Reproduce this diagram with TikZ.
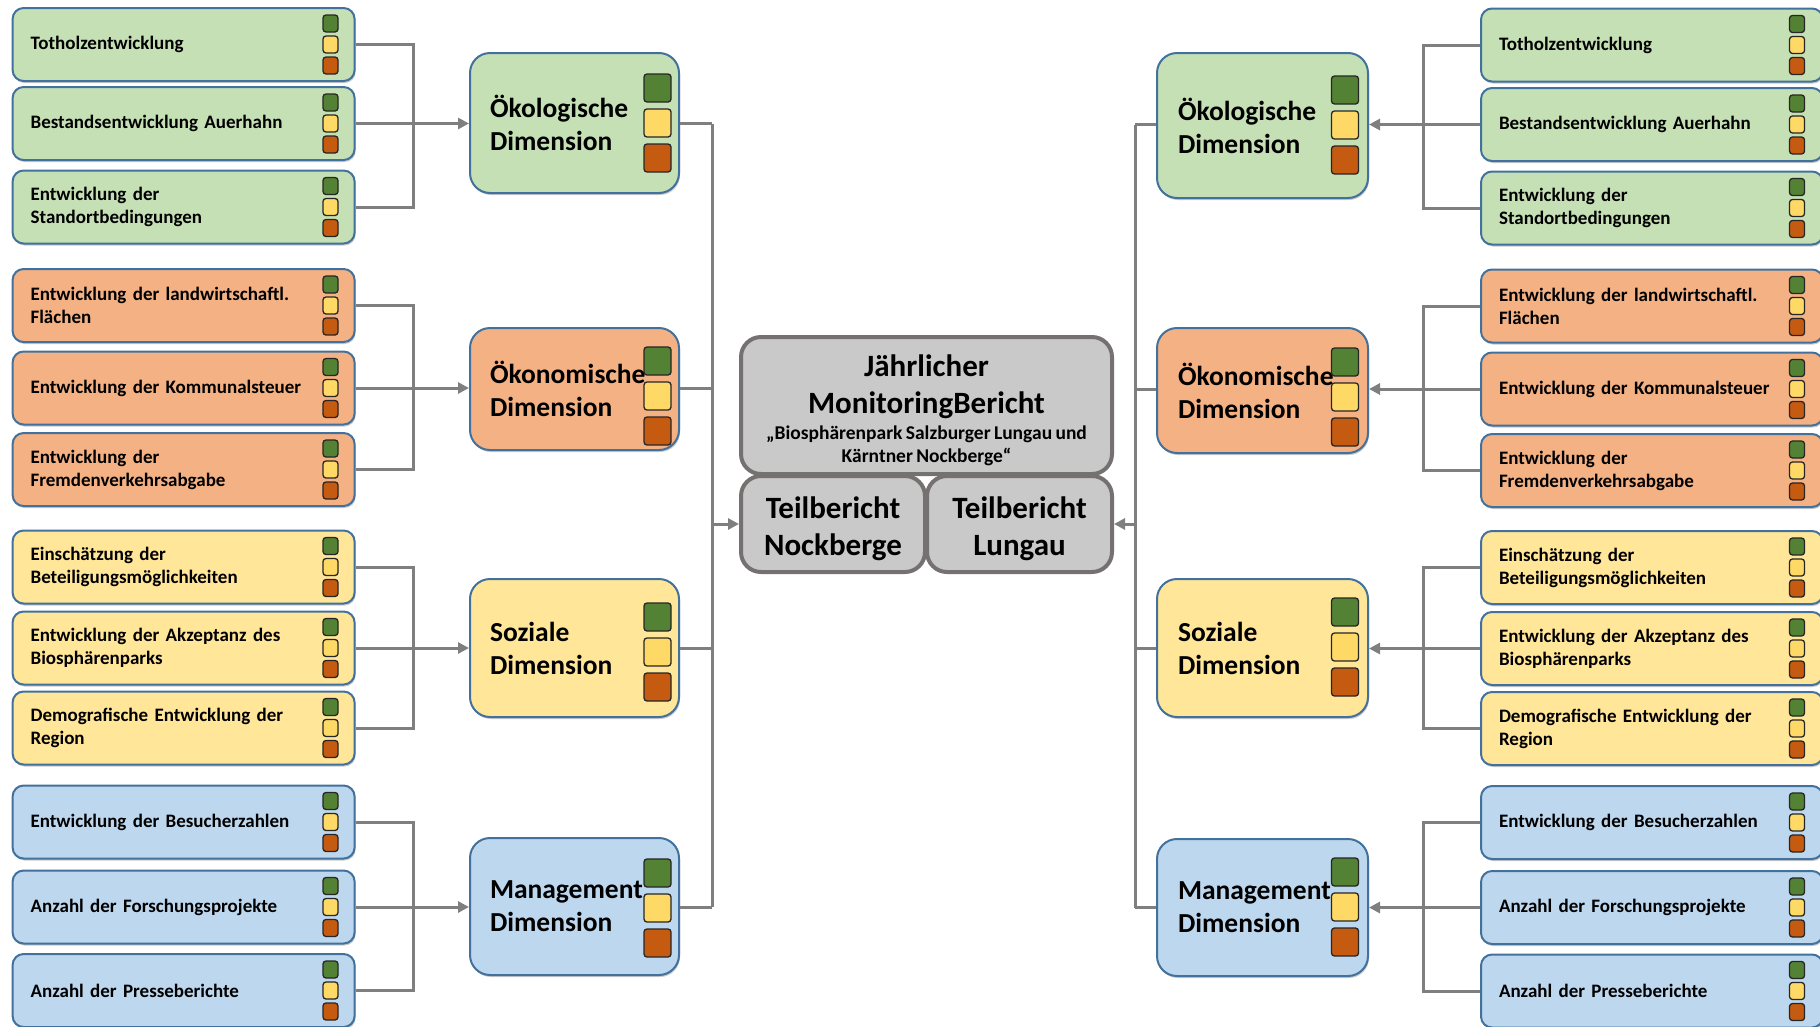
\documentclass[tikz,border=0pt]{standalone}
\usepackage{fontspec}
\setmainfont{Carlito}
\usetikzlibrary{arrows.meta,shadows}

\definecolor{ecoF}{HTML}{C5E0B4}
\definecolor{ecnF}{HTML}{F4B183}
\definecolor{socF}{HTML}{FFE699}
\definecolor{mgtF}{HTML}{BDD7EE}
\definecolor{boxline}{HTML}{41719C}
\definecolor{lampG}{HTML}{548235}
\definecolor{lampY}{HTML}{FFD966}
\definecolor{lampO}{HTML}{C55A11}
\definecolor{lampline}{HTML}{262626}
\definecolor{repF}{HTML}{C9C9C9}
\definecolor{repline}{HTML}{767171}
\definecolor{connc}{HTML}{7F7F7F}

\tikzset{
  shade box/.style={drop shadow={shadow xshift=1pt, shadow yshift=-2pt, fill=black!35, opacity=.6}},
  sbox/.style={draw=boxline, line width=2pt, rounded corners=11pt, shade box,
    minimum width=342pt, minimum height=73pt, text width=306pt, inner xsep=18pt,
    align=left, font=\fontsize{19}{23}\selectfont\bfseries, anchor=west},
  dbox/.style={draw=boxline, line width=2pt, rounded corners=20pt, shade box,
    minimum width=209pt, text width=169pt, inner xsep=20pt,
    align=left, font=\fontsize{27.5}{33}\selectfont\bfseries, anchor=north west},
  rbox/.style={draw=repline, fill=repF, line width=4pt, rounded corners=20pt,
    align=center, font=\bfseries},
  lamp/.style={draw=lampline, line width=1.3pt, rounded corners=3pt},
  conn/.style={draw=connc, line width=3pt},
  arr/.style={conn, -{Triangle[length=11pt,width=11pt]}},
}

% three status lamps (green, yellow, red) centred at x=#1, middle lamp at y=#2
\newcommand{\lampset}[5]{%
  \foreach \c/\k in {lampG/-1,lampY/0,lampO/1}{%
    \pgfmathsetmacro{\ly}{#2+\k*#5-#4/2}%
    \pgfmathsetmacro{\lx}{#1-#3/2}%
    \filldraw[lamp, fill=\c] (\lx,\ly) rectangle ++(#3,#4);
  }%
}
\newcommand{\slamps}[2]{\lampset{#1}{#2}{15}{17}{21}}
\newcommand{\dlamps}[2]{\lampset{#1}{#2}{27}{28}{35}}

\begin{document}
\begin{tikzpicture}[x=1pt, y=-1pt]
\useasboundingbox (0,0) rectangle (1820,1026);

% ---------- central report ----------
\node[rbox, minimum width=371pt, minimum height=137pt, text width=360pt] (report) at (926.5,405.5)
  {\fontsize{31}{37}\selectfont\rule{0pt}{31pt}Jährlicher\\MonitoringBericht\\[3pt]
   \fontsize{19.5}{23}\selectfont „Biosphärenpark Salzburger Lungau und\\[4pt]Kärntner Nockberge“};
\node[rbox, minimum width=184pt, minimum height=96pt, text width=176pt,
      font=\fontsize{31}{37}\selectfont\bfseries] (nock) at (833,524) {\rule{0pt}{31pt}Teilbericht\\Nockberge};
\node[rbox, minimum width=185pt, minimum height=96pt, text width=176pt,
      font=\fontsize{31}{37}\selectfont\bfseries] (lung) at (1019.5,524) {\rule{0pt}{31pt}Teilbericht\\Lungau};

% ---------- left dimensions ----------
\node[dbox, fill=ecoF, minimum height=140pt] (Leco) at (469,52) {Ökologische\\Dimension};
\node[dbox, fill=ecnF, minimum height=122pt] (Lecn) at (469,327) {Ökonomische\\Dimension};
\node[dbox, fill=socF, minimum height=138pt] (Lsoc) at (469,578) {Soziale\\Dimension};
\node[dbox, fill=mgtF, minimum height=137pt] (Lmgt) at (469,837) {Management\\Dimension};
\dlamps{657.5}{123}
\dlamps{657.5}{396}
\dlamps{657.5}{652}
\dlamps{657.5}{908}

% ---------- right dimensions ----------
\node[dbox, fill=ecoF, minimum height=145pt, inner xsep=21pt] (Reco) at (1156,52) {Ökologische\\Dimension};
\node[dbox, fill=ecnF, minimum height=125pt, inner xsep=21pt] (Recn) at (1156,327) {Ökonomische\\Dimension};
\node[dbox, fill=socF, minimum height=138pt, inner xsep=21pt] (Rsoc) at (1156,578) {Soziale\\Dimension};
\node[dbox, fill=mgtF, minimum height=137pt, inner xsep=21pt] (Rmgt) at (1156,838) {Management\\Dimension};
\dlamps{1345}{125}
\dlamps{1345}{397}
\dlamps{1345}{647}
\dlamps{1345}{907}

% ---------- left indicators ----------
\node[sbox, fill=ecoF] (L11) at (11.6,44.5) {Totholzentwicklung};
\node[sbox, fill=ecoF] (L12) at (11.6,123.5) {Bestandsentwicklung Auerhahn};
\node[sbox, fill=ecoF] (L13) at (11.6,207) {Entwicklung der\\Standortbedingungen};
\node[sbox, fill=ecnF] (L21) at (11.6,305.5) {Entwicklung der landwirtschaftl.\\Flächen};
\node[sbox, fill=ecnF] (L22) at (11.6,388) {Entwicklung der Kommunalsteuer};
\node[sbox, fill=ecnF] (L23) at (11.6,469.5) {Entwicklung der\\Fremdenverkehrsabgabe};
\node[sbox, fill=socF] (L31) at (11.6,567) {Einschätzung der\\Beteiligungsmöglichkeiten};
\node[sbox, fill=socF] (L32) at (11.6,648) {Entwicklung der Akzeptanz des\\Biosphärenparks};
\node[sbox, fill=socF] (L33) at (11.6,728) {Demografische Entwicklung der\\Region};
\node[sbox, fill=mgtF] (L41) at (11.6,822) {Entwicklung der Besucherzahlen};
\node[sbox, fill=mgtF] (L42) at (11.6,907) {Anzahl der Forschungsprojekte};
\node[sbox, fill=mgtF] (L43) at (11.6,990.5) {Anzahl der Presseberichte};
\foreach \y in {44.5,123.5,207,305.5,388,469.5,567,648,728,822,907,990.5}{\slamps{330.5}{\y}}

% ---------- right indicators ----------
\node[sbox, fill=ecoF, inner xsep=17pt] (R11) at (1480,45) {Totholzentwicklung};
\node[sbox, fill=ecoF, inner xsep=17pt] (R12) at (1480,124.5) {Bestandsentwicklung Auerhahn};
\node[sbox, fill=ecoF, inner xsep=17pt] (R13) at (1480,208) {Entwicklung der\\Standortbedingungen};
\node[sbox, fill=ecnF, inner xsep=17pt] (R21) at (1480,306) {Entwicklung der landwirtschaftl.\\Flächen};
\node[sbox, fill=ecnF, inner xsep=17pt] (R22) at (1480,389) {Entwicklung der Kommunalsteuer};
\node[sbox, fill=ecnF, inner xsep=17pt] (R23) at (1480,470.5) {Entwicklung der\\Fremdenverkehrsabgabe};
\node[sbox, fill=socF, inner xsep=17pt] (R31) at (1480,567.5) {Einschätzung der\\Beteiligungsmöglichkeiten};
\node[sbox, fill=socF, inner xsep=17pt] (R32) at (1480,648.5) {Entwicklung der Akzeptanz des\\Biosphärenparks};
\node[sbox, fill=socF, inner xsep=17pt] (R33) at (1480,728.5) {Demografische Entwicklung der\\Region};
\node[sbox, fill=mgtF, inner xsep=17pt] (R41) at (1480,822.5) {Entwicklung der Besucherzahlen};
\node[sbox, fill=mgtF, inner xsep=17pt] (R42) at (1480,907.5) {Anzahl der Forschungsprojekte};
\node[sbox, fill=mgtF, inner xsep=17pt] (R43) at (1480,991) {Anzahl der Presseberichte};
\foreach \y in {45,124.5,208,306,389,470.5,567.5,648.5,728.5,822.5,907.5,991}{\slamps{1797}{\y}}

% ---------- left connectors: indicators -> dimensions ----------
\foreach \g/\d in {1/Leco,2/Lecn,3/Lsoc,4/Lmgt}{
  \draw[conn] (L\g1.east) -- ++(58,0) |- (L\g3.east);
  \draw[arr] (L\g2.east) -- (L\g2.east -| \d.west);
}
% dimensions -> Teilbericht Nockberge
\foreach \g/\d in {1/Leco,2/Lecn,3/Lsoc,4/Lmgt}{
  \draw[conn] (L\g2.east -| \d.east) -- ++(32,0);
}
\draw[conn] (L12.east -| Leco.east) ++(32,0) coordinate (lbT) -- (lbT |- L42.east);
\draw[arr] (lbT |- nock.west) -- (nock.west);

% ---------- right connectors ----------
\foreach \g/\d in {1/Reco,2/Recn,3/Rsoc,4/Rmgt}{
  \draw[conn] (R\g1.west) -- ++(-57,0) |- (R\g3.west);
  \draw[arr] (R\g2.west) -- (R\g2.west -| \d.east);
  \draw[conn] (R\g2.west -| \d.west) -- ++(-21,0);
}
\draw[conn] (R12.west -| Reco.west) ++(-21,0) coordinate (rbT) -- (rbT |- R42.west);
\draw[arr] (rbT |- lung.east) -- (lung.east);

\end{tikzpicture}
\end{document}
